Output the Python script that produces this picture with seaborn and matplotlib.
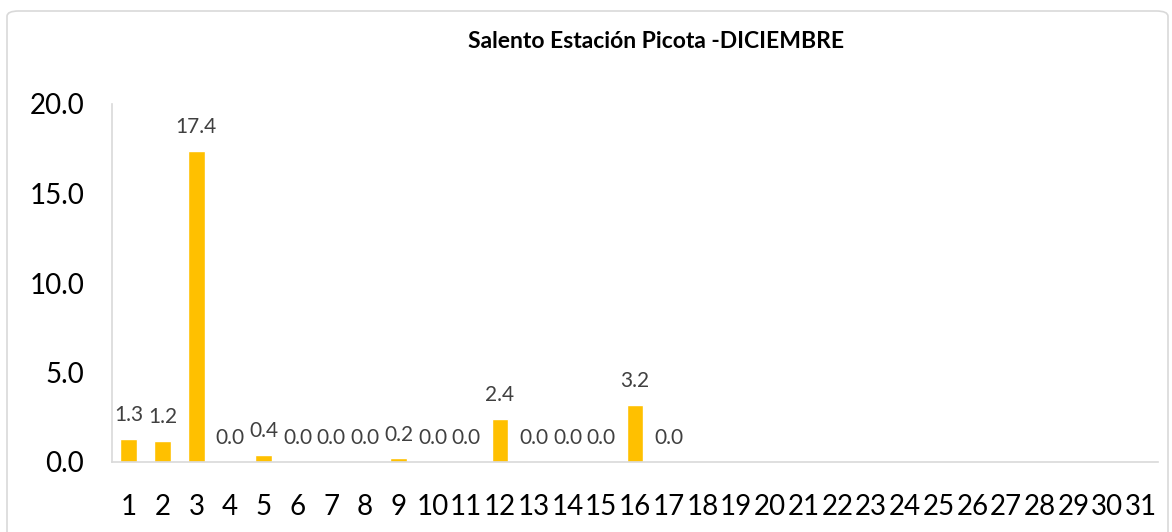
import numpy as np
import pandas as pd
import matplotlib
matplotlib.use("Agg")
import matplotlib.pyplot as plt
import seaborn as sns
from matplotlib.patches import FancyBboxPatch

days = [str(d) for d in range(1, 32)]
values = [1.3, 1.2, 17.4, 0.0, 0.4, 0.0, 0.0, 0.0, 0.2, 0.0, 0.0, 2.4, 0.0, 0.0, 0.0, 3.2, 0.0] + [np.nan] * 14
yticks = [0, 5, 10, 15, 20]
title = "Salento Estación Picota -DICIEMBRE"

sns.set_theme(style="white")
plt.rcParams['font.family'] = ['Lato', 'DejaVu Sans']

df = pd.DataFrame({"dia": days, "valor": values})

fig = plt.figure(figsize=(11.72, 5.32), dpi=100)
ax = fig.add_axes([112/1172, 1-462/532, (1158-112)/1172, (462-104)/532])

sns.barplot(data=df.dropna(), x="dia", y="valor", order=days, color="#FFC000",
            saturation=1, width=0.5, ax=ax)

for i, v in enumerate(values):
    if not np.isnan(v):
        ax.annotate(f"{v:.1f}", (i, v), xytext=(0, 17), textcoords="offset points",
                    ha="center", va="center", fontsize=15, color="#404040")

ax.set_ylim(0, 20)
ax.set_xlim(-0.5, 30.5)
ax.set_yticks(yticks)
ax.set_yticklabels([f"{t:.1f}" for t in yticks])
ax.tick_params(axis="y", length=0, pad=20, labelsize=20, labelcolor="#000000")
ax.tick_params(axis="x", length=0, pad=23, labelsize=20, labelcolor="#000000")
ax.set_xlabel("")
ax.set_ylabel("")
for s in ["top", "right"]:
    ax.spines[s].set_visible(False)
for s in ["left", "bottom"]:
    ax.spines[s].set_color("#D9D9D9")
    ax.spines[s].set_linewidth(1.2)

fig.text(656/1172, 1-42/532, title, ha="center", va="center", fontsize=16.5,
         fontweight="bold", color="#000000")

border = FancyBboxPatch((7/1172, -0.05), (1168-7)/1172, 1-11/532+0.05,
                        boxstyle="round,pad=0,rounding_size=0.01",
                        transform=fig.transFigure, fill=False,
                        edgecolor="#D9D9D9", linewidth=1.2)
fig.patches.append(border)

fig.savefig("out.png", dpi=100)
